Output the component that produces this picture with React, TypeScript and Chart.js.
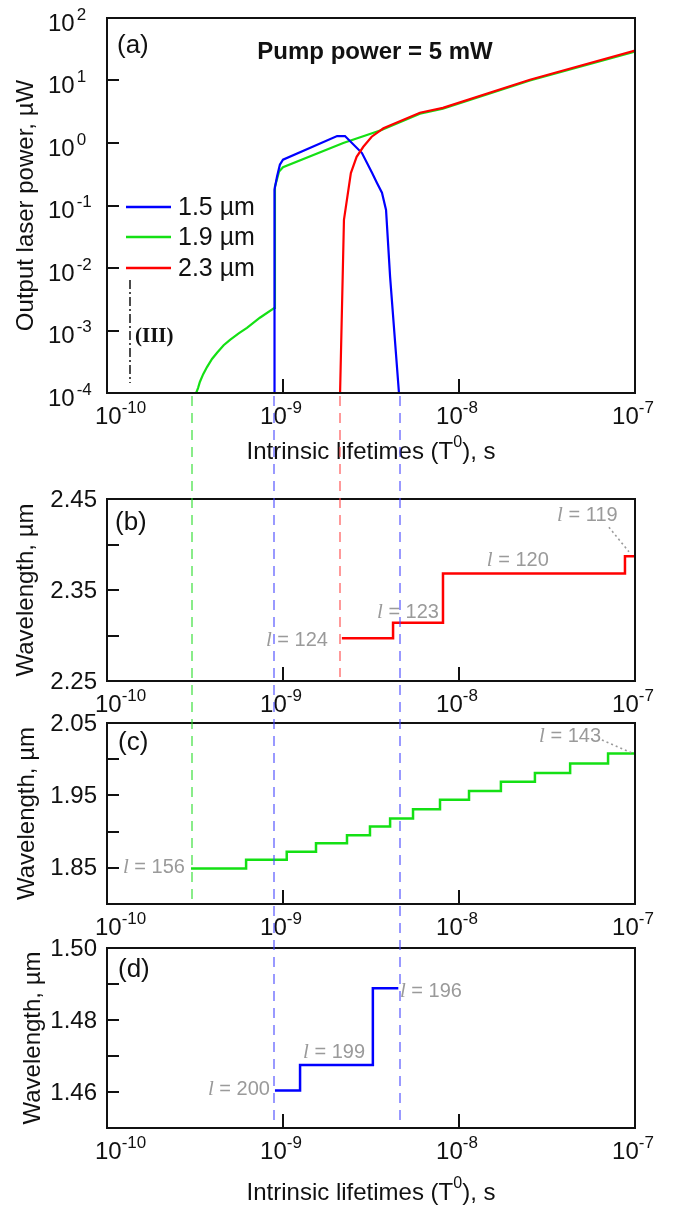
import React, { useEffect, useRef } from "react";
import { Chart, registerables } from "chart.js";

Chart.register(...registerables);

// ---------- Panel (a): output laser power (µW) vs intrinsic lifetime (s) ----------
const seriesNames = ["1.5 µm", "1.9 µm", "2.3 µm"];
const blueLifetimes = [8.9e-10, 8.95e-10, 9.25e-10, 9.6e-10, 1.0e-9, 2.03e-9, 2.25e-9, 2.81e-9, 3.21e-9, 3.42e-9, 3.65e-9, 3.85e-9, 4.06e-9, 4.56e-9];
const bluePower = [1e-4, 0.18, 0.29, 0.45, 0.54, 1.29, 1.29, 0.69, 0.33, 0.23, 0.16, 0.085, 0.0072, 1e-4];
const greenLifetimes = [3.21e-10, 3.29e-10, 3.37e-10, 3.52e-10, 3.7e-10, 3.95e-10, 4.22e-10, 4.6e-10, 5.0e-10, 5.6e-10, 6.24e-10, 7.39e-10, 8.95e-10, 9.0e-10, 9.5e-10, 1.0e-9, 2.2e-9, 3.6e-9, 6.0e-9, 8.1e-9, 2.53e-8, 1.0e-7];
const greenPower = [1e-4, 1.2e-4, 1.5e-4, 2.0e-4, 2.6e-4, 3.5e-4, 4.4e-4, 5.8e-4, 7.1e-4, 9.0e-4, 1.1e-3, 1.6e-3, 2.3e-3, 0.2, 0.35, 0.41, 1.0, 1.6, 2.95, 3.55, 10.0, 29.0];
const redLifetimes = [2.11e-9, 2.22e-9, 2.43e-9, 2.62e-9, 2.86e-9, 3.19e-9, 3.72e-9, 6.0e-9, 8.1e-9, 2.53e-8, 1.0e-7];
const redPower = [1e-4, 0.059, 0.33, 0.6, 0.87, 1.26, 1.72, 3.05, 3.65, 10.3, 30.0];

// ---------- Panel (b): 2.3 µm band wavelength ----------
const bLifetimes = [2.16e-9, 4.22e-9, 8.11e-9, 8.77e-8, 1.0e-7];
const bWavelength = [2.297, 2.314, 2.368, 2.387, 2.387];
const bModes = ["124", "123", "120", "119"];

// ---------- Panel (c): 1.9 µm band wavelength ----------
const cLifetimes = [3.0e-10, 6.17e-10, 1.05e-9, 1.54e-9, 2.31e-9, 3.12e-9, 4.06e-9, 5.48e-9, 7.8e-9, 1.14e-8, 1.73e-8, 2.7e-8, 4.28e-8, 7.03e-8, 1.0e-7];
const cWavelength = [1.849, 1.861, 1.872, 1.884, 1.895, 1.907, 1.918, 1.931, 1.944, 1.956, 1.969, 1.981, 1.994, 2.008, 2.008];
const cModes = ["156", "143"];

// ---------- Panel (d): 1.5 µm band wavelength ----------
const dLifetimes = [9.0e-10, 1.25e-9, 3.24e-9, 4.52e-9];
const dWavelength = [1.4604, 1.4675, 1.4888, 1.4888];
const dModes = ["200", "199", "196"];

// ---------- axes ----------
const xExponents = [-10, -9, -8, -7];
const xTickMarks = [1e-9, 1e-8];
const aExponents = [2, 1, 0, -1, -2, -3, -4];
const aTickMarks = [10, 1, 0.1, 0.01, 0.001];
const bTickMarks = [2.4, 2.35, 2.3];
const bTickLabels = [2.45, 2.35, 2.25];
const cTickMarks = [2.0, 1.95, 1.9, 1.85];
const cTickLabels = [2.05, 1.95, 1.85];
const dTickMarks = [1.49, 1.48, 1.47, 1.46];
const dTickLabels = [1.5, 1.48, 1.46];

// threshold lifetimes shown as dashed guides (green, blue, red, blue)
const cutLifetimes = [3.04e-10, 8.9e-10, 2.11e-9, 4.62e-9];
const cutLastPanel = [2, 3, 1, 3];

// ---------- styles / layout ----------
const C_BLUE = "#0000ff";
const C_GREEN = "#14e014";
const C_RED = "#ff0000";
const CUT_COLORS = ["rgba(40,220,40,0.55)", "rgba(70,70,255,0.55)", "rgba(255,70,70,0.55)", "rgba(70,70,255,0.55)"];
const GRAY = "#9a9a9a";
const SANS = '"Liberation Sans", Arial, Helvetica, sans-serif';
const SERIF = '"Liberation Serif", "Times New Roman", serif';
const PAGE_W = 687;
const PAGE_H = 1209;
const PLOT_LEFT = 107;
const PLOT_RIGHT = 635;
const PANELS = [
  { top: 0, height: 470, areaTop: 18, areaBottom: 393 },
  { top: 470, height: 250, areaTop: 499, areaBottom: 681 },
  { top: 700, height: 240, areaTop: 723, areaBottom: 904 },
  { top: 930, height: 279, areaTop: 948, areaBottom: 1128 },
];

const pts = (xs: number[], ys: number[]) => xs.map((x, i) => ({ x, y: ys[i] }));

function drawPow(ctx: CanvasRenderingContext2D, base: string, exp: string, x: number, cy: number, align: string, gap = 0) {
  ctx.textBaseline = "middle";
  ctx.textAlign = "left";
  ctx.font = `24px ${SANS}`;
  const bw = ctx.measureText(base).width;
  ctx.font = `17px ${SANS}`;
  const ew = ctx.measureText(exp).width;
  const x0 = align === "center" ? x - (bw + gap + ew) / 2 : x;
  ctx.font = `24px ${SANS}`;
  ctx.fillText(base, x0, cy);
  ctx.font = `17px ${SANS}`;
  ctx.fillText(exp, x0 + bw + gap, cy - 9);
}

function drawMode(ctx: CanvasRenderingContext2D, num: string, x: number, cy: number, align: string) {
  ctx.textBaseline = "middle";
  ctx.textAlign = "left";
  ctx.fillStyle = GRAY;
  ctx.font = `italic 21px ${SERIF}`;
  const lw = ctx.measureText("l").width;
  const rest = " = " + num;
  ctx.font = `20px ${SANS}`;
  const rw = ctx.measureText(rest).width;
  const x0 = align === "right" ? x - lw - rw : x;
  ctx.font = `italic 21px ${SERIF}`;
  ctx.fillText("l", x0, cy);
  ctx.font = `20px ${SANS}`;
  ctx.fillText(rest, x0 + lw, cy);
}

function drawLeader(chart: any, t1: number, w1: number, t2: number, w2: number) {
  const ctx = chart.ctx;
  const xs = chart.scales.x;
  const ys = chart.scales.y;
  ctx.save();
  ctx.strokeStyle = GRAY;
  ctx.lineWidth = 1.6;
  ctx.setLineDash([2, 3]);
  ctx.beginPath();
  ctx.moveTo(xs.getPixelForValue(t1), ys.getPixelForValue(w1));
  ctx.lineTo(xs.getPixelForValue(t2), ys.getPixelForValue(w2));
  ctx.stroke();
  ctx.restore();
}

function drawXTitle(ctx: CanvasRenderingContext2D, cx: number, cy: number) {
  const p1 = "Intrinsic lifetimes (T";
  const p2 = "0";
  const p3 = "), s";
  ctx.textBaseline = "middle";
  ctx.textAlign = "left";
  ctx.fillStyle = "#111";
  ctx.font = `24px ${SANS}`;
  const w1 = ctx.measureText(p1).width;
  const w3 = ctx.measureText(p3).width;
  ctx.font = `16px ${SANS}`;
  const w2 = ctx.measureText(p2).width;
  const x0 = cx - (w1 + w2 + w3) / 2;
  ctx.font = `24px ${SANS}`;
  ctx.fillText(p1, x0, cy);
  ctx.fillText(p3, x0 + w1 + w2, cy);
  ctx.font = `16px ${SANS}`;
  ctx.fillText(p2, x0 + w1, cy - 9);
}

function drawYTitle(ctx: CanvasRenderingContext2D, text: string, x: number, cy: number) {
  ctx.save();
  ctx.translate(x, cy);
  ctx.rotate(-Math.PI / 2);
  ctx.textAlign = "center";
  ctx.textBaseline = "middle";
  ctx.fillStyle = "#111";
  ctx.font = `24px ${SANS}`;
  ctx.fillText(text, 0, 0);
  ctx.restore();
}

function drawCommon(chart: any, yMarks: number[]) {
  const ctx: CanvasRenderingContext2D = chart.ctx;
  const a = chart.chartArea;
  const xs = chart.scales.x;
  const ys = chart.scales.y;
  ctx.strokeStyle = "#111";
  ctx.fillStyle = "#111";
  ctx.lineWidth = 2;
  ctx.setLineDash([]);
  ctx.strokeRect(a.left, a.top, a.right - a.left, a.bottom - a.top);
  ctx.beginPath();
  yMarks.forEach((v) => {
    const y = Math.round(ys.getPixelForValue(v));
    ctx.moveTo(a.left, y);
    ctx.lineTo(a.left + 12, y);
  });
  xTickMarks.forEach((v) => {
    const x = Math.round(xs.getPixelForValue(v));
    ctx.moveTo(x, a.bottom);
    ctx.lineTo(x, a.bottom - 14);
  });
  ctx.stroke();
  xExponents.forEach((e, i) => {
    const x = xs.getPixelForValue(Math.pow(10, e));
    if (i === 0) drawPow(ctx, "10", String(e), x - 12, a.bottom + 24, "left");
    else drawPow(ctx, "10", String(e), x - 2, a.bottom + 24, "center");
  });
}

function drawLinearLabels(chart: any, labels: number[]) {
  const ctx: CanvasRenderingContext2D = chart.ctx;
  const a = chart.chartArea;
  const ys = chart.scales.y;
  ctx.fillStyle = "#111";
  ctx.font = `24px ${SANS}`;
  ctx.textAlign = "right";
  ctx.textBaseline = "middle";
  labels.forEach((v) => ctx.fillText(v.toFixed(2), a.left - 10, ys.getPixelForValue(v) + 1));
}

function drawPanelTag(ctx: CanvasRenderingContext2D, tag: string, x: number, cy: number) {
  ctx.fillStyle = "#111";
  ctx.font = `26px ${SANS}`;
  ctx.textAlign = "left";
  ctx.textBaseline = "middle";
  ctx.fillText(tag, x, cy);
}

function makeChart(canvas: HTMLCanvasElement, p: any, yType: string, yMin: number, yMax: number, datasets: any[], decorate: (c: any) => void) {
  return new Chart(canvas, {
    type: "line",
    data: { datasets },
    options: {
      animation: false,
      responsive: false,
      devicePixelRatio: 1,
      layout: {
        padding: {
          left: PLOT_LEFT,
          right: PAGE_W - PLOT_RIGHT,
          top: p.areaTop - p.top,
          bottom: p.top + p.height - p.areaBottom,
        },
      },
      scales: {
        x: { type: "logarithmic", min: 1e-10, max: 1e-7, display: false },
        y: { type: yType as any, min: yMin, max: yMax, display: false },
      },
      plugins: { legend: { display: false }, tooltip: { enabled: false } },
      elements: { point: { radius: 0 }, line: { borderWidth: 2.2, tension: 0 } },
    },
    plugins: [
      {
        id: "decor",
        afterDraw: (chart: any) => {
          chart.ctx.save();
          decorate(chart);
          chart.ctx.restore();
        },
      },
    ],
  } as any);
}

function decorateA(chart: any) {
  const ctx: CanvasRenderingContext2D = chart.ctx;
  const a = chart.chartArea;
  const ys = chart.scales.y;
  drawCommon(chart, aTickMarks);
  ctx.fillStyle = "#111";
  aExponents.forEach((e) => drawPow(ctx, "10", String(e), 48, ys.getPixelForValue(Math.pow(10, e)) + 6, "left", 2));
  drawYTitle(ctx, "Output laser power, µW", 26, (a.top + a.bottom) / 2);
  drawXTitle(ctx, (a.left + a.right) / 2, a.bottom + 59);
  drawPanelTag(ctx, "(a)", a.left + 10, a.top + 28);
  ctx.font = `bold 24px ${SANS}`;
  ctx.textAlign = "center";
  ctx.textBaseline = "middle";
  ctx.fillText("Pump power = 5 mW", a.left + 268, a.top + 34);
  // legend
  const colors = [C_BLUE, C_GREEN, C_RED];
  const rows = [189, 219, 250];
  seriesNames.forEach((name, i) => {
    const y = a.top + rows[i];
    ctx.strokeStyle = colors[i];
    ctx.lineWidth = 2.5;
    ctx.beginPath();
    ctx.moveTo(a.left + 19, y);
    ctx.lineTo(a.left + 64, y);
    ctx.stroke();
    ctx.fillStyle = "#111";
    ctx.font = `25px ${SANS}`;
    ctx.textAlign = "left";
    ctx.textBaseline = "middle";
    ctx.fillText(name, a.left + 71, y + 1);
  });
  // regime marker (III)
  ctx.strokeStyle = "#111";
  ctx.lineWidth = 1.5;
  ctx.setLineDash([9, 3, 2, 3]);
  ctx.beginPath();
  ctx.moveTo(a.left + 23, a.top + 262);
  ctx.lineTo(a.left + 23, a.top + 365);
  ctx.stroke();
  ctx.setLineDash([]);
  ctx.fillStyle = "#111";
  ctx.font = `bold 21px ${SERIF}`;
  ctx.textAlign = "left";
  ctx.fillText("(III)", a.left + 28, a.top + 319);
}

function decorateB(chart: any) {
  const ctx: CanvasRenderingContext2D = chart.ctx;
  const a = chart.chartArea;
  const xs = chart.scales.x;
  const ys = chart.scales.y;
  drawCommon(chart, bTickMarks);
  drawLinearLabels(chart, bTickLabels);
  drawYTitle(ctx, "Wavelength, µm", 26, (a.top + a.bottom) / 2);
  drawPanelTag(ctx, "(b)", a.left + 8, a.top + 24);
  drawMode(ctx, bModes[0], xs.getPixelForValue(1.8e-9), ys.getPixelForValue(2.295), "right");
  drawMode(ctx, bModes[1], xs.getPixelForValue(3.42e-9), ys.getPixelForValue(2.325), "left");
  drawMode(ctx, bModes[2], xs.getPixelForValue(1.44e-8), ys.getPixelForValue(2.382), "left");
  drawMode(ctx, bModes[3], xs.getPixelForValue(3.61e-8), ys.getPixelForValue(2.432), "left");
  drawLeader(chart, 7.11e-8, 2.419, 9.24e-8, 2.392);
}

function decorateC(chart: any) {
  const ctx: CanvasRenderingContext2D = chart.ctx;
  const a = chart.chartArea;
  const xs = chart.scales.x;
  const ys = chart.scales.y;
  drawCommon(chart, cTickMarks);
  drawLinearLabels(chart, cTickLabels);
  drawYTitle(ctx, "Wavelength, µm", 27, (a.top + a.bottom) / 2);
  drawPanelTag(ctx, "(c)", a.left + 11, a.top + 20);
  drawMode(ctx, cModes[0], xs.getPixelForValue(2.77e-10), ys.getPixelForValue(1.85), "right");
  drawMode(ctx, cModes[1], xs.getPixelForValue(2.85e-8), ys.getPixelForValue(2.032), "left");
  drawLeader(chart, 6.49e-8, 2.0265, 9.6e-8, 2.0086);
}

function decorateD(chart: any) {
  const ctx: CanvasRenderingContext2D = chart.ctx;
  const a = chart.chartArea;
  const xs = chart.scales.x;
  const ys = chart.scales.y;
  drawCommon(chart, dTickMarks);
  drawLinearLabels(chart, dTickLabels);
  drawYTitle(ctx, "Wavelength, µm", 33, (a.top + a.bottom) / 2);
  drawPanelTag(ctx, "(d)", a.left + 11, a.top + 22);
  drawMode(ctx, dModes[0], xs.getPixelForValue(8.43e-10), ys.getPixelForValue(1.4608), "right");
  drawMode(ctx, dModes[1], xs.getPixelForValue(1.3e-9), ys.getPixelForValue(1.4711), "left");
  drawMode(ctx, dModes[2], xs.getPixelForValue(4.62e-9), ys.getPixelForValue(1.4878), "left");
  drawXTitle(ctx, (a.left + a.right) / 2, a.bottom + 65);
}

function drawCuts(canvas: HTMLCanvasElement, charts: any[]) {
  const ctx = canvas.getContext("2d");
  if (!ctx) return;
  ctx.clearRect(0, 0, canvas.width, canvas.height);
  const xs = charts[0].scales.x;
  const yStart = PANELS[0].top + charts[0].chartArea.bottom + 3;
  cutLifetimes.forEach((t, i) => {
    const last = cutLastPanel[i];
    const yEnd = PANELS[last].top + charts[last].chartArea.bottom - 4;
    const x = Math.round(xs.getPixelForValue(t));
    ctx.strokeStyle = CUT_COLORS[i];
    ctx.lineWidth = 2;
    ctx.setLineDash([10, 7]);
    ctx.beginPath();
    ctx.moveTo(x, yStart);
    ctx.lineTo(x, yEnd);
    ctx.stroke();
  });
}

export default function App() {
  const aRef = useRef<HTMLCanvasElement>(null);
  const bRef = useRef<HTMLCanvasElement>(null);
  const cRef = useRef<HTMLCanvasElement>(null);
  const dRef = useRef<HTMLCanvasElement>(null);
  const oRef = useRef<HTMLCanvasElement>(null);

  useEffect(() => {
    const lineDs = (label: string, data: any[], color: string, extra: any = {}) => ({
      label,
      data,
      borderColor: color,
      backgroundColor: color,
      borderWidth: 2.2,
      pointRadius: 0,
      fill: false,
      ...extra,
    });
    const charts = [
      makeChart(aRef.current!, PANELS[0], "logarithmic", 1e-4, 1e2, [
        lineDs(seriesNames[2], pts(redLifetimes, redPower), C_RED),
        lineDs(seriesNames[0], pts(blueLifetimes, bluePower), C_BLUE),
        lineDs(seriesNames[1], pts(greenLifetimes, greenPower), C_GREEN),
      ], decorateA),
      makeChart(bRef.current!, PANELS[1], "linear", 2.25, 2.45, [
        lineDs("2.3 µm", pts(bLifetimes, bWavelength), C_RED, { stepped: "before", borderWidth: 2.5 }),
      ], decorateB),
      makeChart(cRef.current!, PANELS[2], "linear", 1.8, 2.05, [
        lineDs("1.9 µm", pts(cLifetimes, cWavelength), C_GREEN, { stepped: "before", borderWidth: 2.5 }),
      ], decorateC),
      makeChart(dRef.current!, PANELS[3], "linear", 1.45, 1.5, [
        lineDs("1.5 µm", pts(dLifetimes, dWavelength), C_BLUE, { stepped: "before", borderWidth: 2.5 }),
      ], decorateD),
    ];
    if (oRef.current) drawCuts(oRef.current, charts);
    return () => charts.forEach((c) => c.destroy());
  }, []);

  const cv = (p: any) => ({ position: "absolute" as const, left: 0, top: p.top, width: PAGE_W, height: p.height });
  return (
    <div style={{ position: "absolute", left: 0, top: 0, width: PAGE_W, height: PAGE_H, background: "#fff", overflow: "hidden" }}>
      <canvas ref={aRef} width={PAGE_W} height={PANELS[0].height} style={cv(PANELS[0])} />
      <canvas ref={bRef} width={PAGE_W} height={PANELS[1].height} style={cv(PANELS[1])} />
      <canvas ref={cRef} width={PAGE_W} height={PANELS[2].height} style={cv(PANELS[2])} />
      <canvas ref={dRef} width={PAGE_W} height={PANELS[3].height} style={cv(PANELS[3])} />
      <canvas ref={oRef} width={PAGE_W} height={PAGE_H} style={{ position: "absolute", left: 0, top: 0, width: PAGE_W, height: PAGE_H, pointerEvents: "none" }} />
    </div>
  );
}
